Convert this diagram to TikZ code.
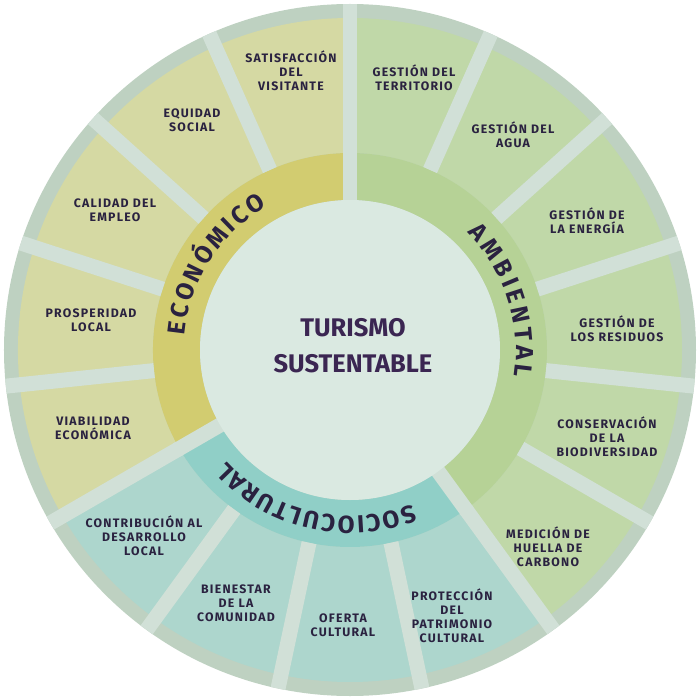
\documentclass[tikz,border=0pt]{standalone}
\usepackage{fontspec}
\setmainfont{Fira Sans}
\newfontfamily\lblfont{Fira Sans}[LetterSpace=10]
\usetikzlibrary{decorations.text}
\definecolor{rim}{HTML}{BED1C1}
\definecolor{spoke}{HTML}{D1E0D7}
\definecolor{core}{HTML}{DAE9E1}
\definecolor{ecotile}{HTML}{D5D9A3}
\definecolor{ecoring}{HTML}{D2CC70}
\definecolor{amtile}{HTML}{C0D8A8}
\definecolor{amring}{HTML}{B6D296}
\definecolor{sotile}{HTML}{ADD6CD}
\definecolor{soring}{HTML}{90CFC7}
\definecolor{ink}{HTML}{2A2240}
\definecolor{title}{HTML}{3B2652}
% a piece of ring: colour, from angle, to angle, inner and outer radius
\newcommand{\wedgefill}[5]{\fill[#1] (#2:#4) arc[start angle=#2,end angle=#3,radius=#4] -- (#3:#5) arc[start angle=#3,end angle=#2,radius=#5] -- cycle;}

\begin{document}
\begin{tikzpicture}[x=0.02cm,y=0.02cm,
  lbl/.style={text=ink,align=center,font=\lblfont\bfseries\fontsize{7}{8}\selectfont},
  ringtext/.style={decorate,decoration={text along path,text align={fit to path},text color=ink,
    text={|\bfseries\fontsize{14}{14}\selectfont|#1}}}]
\fill[white] (-350,-350) rectangle (350,350);
\useasboundingbox (-350,-350) rectangle (350,350);
% the disc and its tiles
\fill[rim] (0,0) circle (346);
\wedgefill{ecotile}{90}{210}{197}{332}
\wedgefill{amtile}{-54}{90}{197}{332}
\wedgefill{sotile}{210}{306}{197}{332}
% the three rings
\wedgefill{ecoring}{90}{210}{150}{197}
\wedgefill{amring}{-54}{90}{150}{197}
\wedgefill{soring}{210}{306}{150}{197}
% spokes between the tiles, 15 of them
\begin{scope}
 \clip (0,0) circle (346);
 \foreach \a in {90,114,...,426} {\draw[spoke,line width=0.3cm] (\a:197) -- (\a:350);}
 \foreach \a in {90,210,306} {\draw[spoke,line width=0.3cm] (\a:140) -- (\a:200);}
\end{scope}
\fill[core] (0,0) circle (150);
% names of the rings
\path[ringtext=ECONÓMICO] (175:166) arc[start angle=175,end angle=120,radius=166];
\path[ringtext=AMBIENTAL] (45:166) arc[start angle=45,end angle=-9,radius=166];
\path[ringtext=SOCIOCULTURAL] (292:166) arc[start angle=292,end angle=222,radius=166];
\node[text=title,align=center,font=\bfseries\fontsize{14.5}{20.4}\selectfont] (centro) at (3,4) {TURISMO\\SUSTENTABLE};
% economic tiles
\node[lbl] (satisf) at (-59,279) {SATISFACCIÓN\\DEL\\VISITANTE};
\node[lbl] (equidad) at (-158,230) {EQUIDAD\\SOCIAL};
\node[lbl] (empleo) at (-235,140) {CALIDAD DEL\\EMPLEO};
\node[lbl] (prosp) at (-259,30) {PROSPERIDAD\\LOCAL};
\node[lbl] (viab) at (-257,-78) {VIABILIDAD\\ECONÓMICA};
% environmental tiles
\node[lbl] (territ) at (64,272) {GESTIÓN DEL\\TERRITORIO};
\node[lbl] (agua) at (163,215) {GESTIÓN DEL\\AGUA};
\node[lbl] (energia) at (237,129) {GESTIÓN DE\\LA ENERGÍA};
\node[lbl] (resid) at (267,21) {GESTIÓN DE\\LOS RESIDUOS};
\node[lbl] (biodiv) at (257,-87) {CONSERVACIÓN\\DE LA\\BIODIVERSIDAD};
\node[lbl] (huella) at (198,-197) {MEDICIÓN DE\\HUELLA DE\\CARBONO};
% sociocultural tiles
\node[lbl] (contrib) at (-206,-186) {CONTRIBUCIÓN AL\\DESARROLLO\\LOCAL};
\node[lbl] (bienestar) at (-114,-253) {BIENESTAR\\DE LA\\COMUNIDAD};
\node[lbl] (oferta) at (-7,-275) {OFERTA\\CULTURAL};
\node[lbl] (patrim) at (102,-266) {PROTECCIÓN\\DEL\\PATRIMONIO\\CULTURAL};
\end{tikzpicture}
\end{document}
